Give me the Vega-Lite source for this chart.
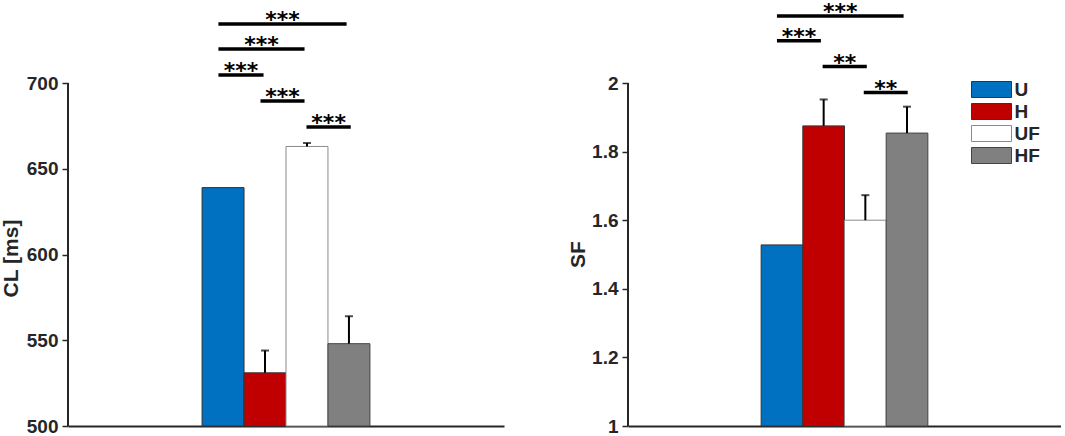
{
  "$schema": "https://vega.github.io/schema/vega-lite/v6.json",
  "background": "white",
  "padding": {"left": 0, "top": 0, "right": 0, "bottom": 0},
  "spacing": 63,
  "config": {
    "view": {"stroke": null},
    "font": "Liberation Sans",
    "axis": {
      "labelFont": "Liberation Sans", "labelFontWeight": "bold", "labelFontSize": 19, "labelColor": "#262626",
      "titleFont": "Liberation Sans", "titleFontWeight": "bold", "titleFontSize": 21, "titleColor": "#262626",
      "grid": false, "tickColor": "#262626", "tickWidth": 1.5, "tickSize": 6, "labelPadding": 4,
      "domainColor": "#262626", "domainWidth": 2
    },
    "legend": {
      "title": null, "symbolType": "M-2.5,-1H2.5V1H-2.5Z", "symbolSize": 256, "symbolStrokeWidth": 1,
      "labelFont": "Liberation Sans", "labelFontWeight": "bold", "labelFontSize": 19, "labelColor": "#262626",
      "rowPadding": 1, "labelOffset": 13.5, "padding": 0
    }
  },
  "resolve": {
    "scale": {"fill": "independent", "stroke": "independent", "x": "independent", "y": "independent"},
    "legend": {"fill": "independent", "stroke": "independent"}
  },
  "hconcat": [
    {
      "width": 436,
      "height": 426,
      "layer": [
        {
          "data": {"values": [
            {"g": "U", "x0": 0.615, "x1": 0.8075, "v": 639},
            {"g": "H", "x0": 0.8075, "x1": 1.0, "v": 531},
            {"g": "UF", "x0": 1.0, "x1": 1.1925, "v": 663},
            {"g": "HF", "x0": 1.1925, "x1": 1.385, "v": 548}
          ]},
          "mark": {"type": "rect", "strokeWidth": 1},
          "encoding": {
            "x": {"field": "x0", "type": "quantitative", "scale": {"domain": [0, 2], "nice": false, "zero": false},
                  "axis": {"labels": false, "ticks": false, "title": null}},
            "x2": {"field": "x1"},
            "y": {"field": "v", "type": "quantitative", "scale": {"domain": [500, 748.4], "nice": false, "zero": false},
                  "axis": {"values": [500, 550, 600, 650, 700], "domain": false, "format": "d", "title": "CL [ms]", "titleX": -47, "titleY": 258}},
            "y2": {"datum": 500},
            "fill": {"field": "g", "type": "nominal", "scale": {"domain": ["U", "H", "UF", "HF"], "range": ["#0070C0", "#C00000", "#FFFFFF", "#808080"]}, "legend": null},
            "stroke": {"field": "g", "type": "nominal", "scale": {"domain": ["U", "H", "UF", "HF"], "range": ["#333333", "#333333", "#8a8a8a", "#444444"]}, "legend": null}
          }
        },
        {
          "data": {"values": [
            {"g": "H", "xc": 0.90375, "v": 531, "hi": 544},
            {"g": "UF", "xc": 1.09625, "v": 663, "hi": 665},
            {"g": "HF", "xc": 1.28875, "v": 548, "hi": 564}
          ]},
          "layer": [
            {"mark": {"type": "rule", "strokeWidth": 2, "color": "black"},
             "encoding": {"x": {"field": "xc", "type": "quantitative"}, "y": {"field": "v", "type": "quantitative"}, "y2": {"field": "hi"}}},
            {"mark": {"type": "tick", "orient": "horizontal", "size": 8, "thickness": 2, "color": "black"},
             "encoding": {"x": {"field": "xc", "type": "quantitative"}, "y": {"field": "hi", "type": "quantitative"}}}
          ]
        },
        {
          "data": {"values": [{"ax": 0, "lo": 500, "top": 700}]},
          "mark": {"type": "rule", "strokeWidth": 2, "color": "#262626"},
          "encoding": {"x": {"field": "ax", "type": "quantitative"}, "y": {"field": "lo", "type": "quantitative"}, "y2": {"field": "top"}}
        },
        {
          "data": {"values": [
            {"a": 0.690, "b": 1.278, "y": 734.4, "mid": 0.984, "t": "***"},
            {"a": 0.690, "b": 1.085, "y": 719.8, "mid": 0.8875, "t": "***"},
            {"a": 0.690, "b": 0.897, "y": 704.7, "mid": 0.7935, "t": "***"},
            {"a": 0.883, "b": 1.085, "y": 689.5, "mid": 0.984, "t": "***"},
            {"a": 1.094, "b": 1.297, "y": 674.3, "mid": 1.1955, "t": "***"}
          ]},
          "layer": [
            {"mark": {"type": "rule", "strokeWidth": 3.5, "color": "black"},
             "encoding": {"x": {"field": "a", "type": "quantitative"}, "x2": {"field": "b"}, "y": {"field": "y", "type": "quantitative"}}},
            {"mark": {"type": "text", "font": "DejaVu Sans", "fontWeight": "bold", "fontSize": 22, "dy": 3, "baseline": "alphabetic", "color": "black"},
             "encoding": {"x": {"field": "mid", "type": "quantitative"}, "y": {"field": "y", "type": "quantitative"}, "text": {"field": "t"}}}
          ]
        }
      ]
    },
    {
      "width": 433,
      "height": 426,
      "layer": [
        {
          "data": {"values": [
            {"g": "U", "x0": 0.615, "x1": 0.8075, "v": 1.528},
            {"g": "H", "x0": 0.8075, "x1": 1.0, "v": 1.875},
            {"g": "UF", "x0": 1.0, "x1": 1.1925, "v": 1.600},
            {"g": "HF", "x0": 1.1925, "x1": 1.385, "v": 1.854}
          ]},
          "mark": {"type": "rect", "strokeWidth": 1},
          "encoding": {
            "x": {"field": "x0", "type": "quantitative", "scale": {"domain": [0, 2], "nice": false, "zero": false},
                  "axis": {"labels": false, "ticks": false, "title": null}},
            "x2": {"field": "x1"},
            "y": {"field": "v", "type": "quantitative", "scale": {"domain": [1, 2.242], "nice": false, "zero": false},
                  "axis": {"values": [1, 1.2, 1.4, 1.6, 1.8, 2], "domain": false, "format": "~g", "title": "SF", "titleX": -40, "titleY": 254}},
            "y2": {"datum": 1},
            "fill": {"field": "g", "type": "nominal", "scale": {"domain": ["U", "H", "UF", "HF"], "range": ["#0070C0", "#C00000", "#FFFFFF", "#808080"]},
                     "legend": {"orient": "none", "legendX": 354, "legendY": 80}},
            "stroke": {"field": "g", "type": "nominal", "scale": {"domain": ["U", "H", "UF", "HF"], "range": ["#333333", "#333333", "#8a8a8a", "#444444"]},
                       "legend": {"orient": "none", "legendX": 354, "legendY": 80}}
          }
        },
        {
          "data": {"values": [
            {"g": "H", "xc": 0.90375, "v": 1.875, "hi": 1.952},
            {"g": "UF", "xc": 1.09625, "v": 1.600, "hi": 1.673},
            {"g": "HF", "xc": 1.28875, "v": 1.854, "hi": 1.931}
          ]},
          "layer": [
            {"mark": {"type": "rule", "strokeWidth": 2, "color": "black"},
             "encoding": {"x": {"field": "xc", "type": "quantitative"}, "y": {"field": "v", "type": "quantitative"}, "y2": {"field": "hi"}}},
            {"mark": {"type": "tick", "orient": "horizontal", "size": 8, "thickness": 2, "color": "black"},
             "encoding": {"x": {"field": "xc", "type": "quantitative"}, "y": {"field": "hi", "type": "quantitative"}}}
          ]
        },
        {
          "data": {"values": [{"ax": 0, "lo": 1, "top": 2}]},
          "mark": {"type": "rule", "strokeWidth": 2, "color": "#262626"},
          "encoding": {"x": {"field": "ax", "type": "quantitative"}, "y": {"field": "lo", "type": "quantitative"}, "y2": {"field": "top"}}
        },
        {
          "data": {"values": [
            {"a": 0.688, "b": 1.273, "y": 2.195, "mid": 0.9805, "t": "***"},
            {"a": 0.688, "b": 0.891, "y": 2.123, "mid": 0.7895, "t": "***"},
            {"a": 0.899, "b": 1.103, "y": 2.048, "mid": 1.001, "t": "**"},
            {"a": 1.089, "b": 1.292, "y": 1.972, "mid": 1.1905, "t": "**"}
          ]},
          "layer": [
            {"mark": {"type": "rule", "strokeWidth": 3.5, "color": "black"},
             "encoding": {"x": {"field": "a", "type": "quantitative"}, "x2": {"field": "b"}, "y": {"field": "y", "type": "quantitative"}}},
            {"mark": {"type": "text", "font": "DejaVu Sans", "fontWeight": "bold", "fontSize": 22, "dy": 3, "baseline": "alphabetic", "color": "black"},
             "encoding": {"x": {"field": "mid", "type": "quantitative"}, "y": {"field": "y", "type": "quantitative"}, "text": {"field": "t"}}}
          ]
        }
      ]
    }
  ]
}
